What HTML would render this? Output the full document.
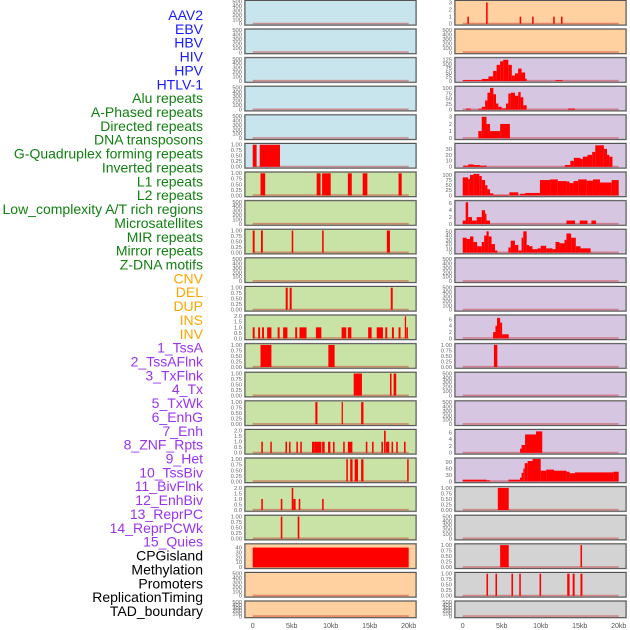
<!DOCTYPE html>
<html><head><meta charset="utf-8">
<style>
html,body{margin:0;padding:0;background:#fff;}
svg{display:block;font-family:"Liberation Sans",sans-serif;}
</style></head>
<body>
<svg id="chart" width="630" height="630" viewBox="0 0 630 630" xmlns="http://www.w3.org/2000/svg">
<g id="labels"></g>
<g id="panels"></g>
<g id="xaxes"></g>
</svg>
<script>
const trackLabels = ["AAV2","EBV","HBV","HIV","HPV","HTLV-1","Alu repeats","A-Phased repeats","Directed repeats","DNA transposons","G-Quadruplex forming repeats","Inverted repeats","L1 repeats","L2 repeats","Low_complexity A/T rich regions","Microsatellites","MIR repeats","Mirror repeats","Z-DNA motifs","CNV","DEL","DUP","INS","INV","1_TssA","2_TssAFlnk","3_TxFlnk","4_Tx","5_TxWk","6_EnhG","7_Enh","8_ZNF_Rpts","9_Het","10_TssBiv","11_BivFlnk","12_EnhBiv","13_ReprPC","14_ReprPCWk","15_Quies","CPGisland","Methylation","Promoters","ReplicationTiming","TAD_boundary"];
const labelGroups = [6,13,5,15,5];
const groupColors = ["#1a1aff","#118011","#ffa500","#9a33f0","#000000"];
const leftBg = ["#c8e4ec","#c8e4ec","#c8e4ec","#c8e4ec","#c8e4ec","#c8e4ec","#c9e2a5","#c9e2a5","#c9e2a5","#c9e2a5","#c9e2a5","#c9e2a5","#c9e2a5","#c9e2a5","#c9e2a5","#c9e2a5","#c9e2a5","#c9e2a5","#c9e2a5","#ffd0a0","#ffd0a0","#ffd0a0"];
const rightBg = ["#ffd0a0","#ffd0a0","#d6c6e2","#d6c6e2","#d6c6e2","#d6c6e2","#d6c6e2","#d6c6e2","#d6c6e2","#d6c6e2","#d6c6e2","#d6c6e2","#d6c6e2","#d6c6e2","#d6c6e2","#d6c6e2","#d6c6e2","#d3d3d3","#d3d3d3","#d3d3d3","#d3d3d3","#d3d3d3"];
const E = [];
const T500 = ["0","100","200","300","400","500"];
const T1 = ["0.00","0.25","0.50","0.75","1.00"];
const T2 = ["0.0","0.5","1.0","1.5","2.0"];
// left column: [segments [kbStart,kbEnd,value]], ticks, domain max
const leftData = [
 E,E,E,E,E,
 [[0,0.5,1],[0.9,3.5,1]],
 [[1.0,1.6,1],[8.2,8.7,1],[8.9,10.0,1],[12.2,12.7,1],[14.1,14.7,1],[18.7,19.1,1]],
 E,
 [[0,0.25,1],[1.06,1.3,1],[5.0,5.2,1],[8.9,9.1,1],[17.2,17.6,1]],
 E,
 [[4.23,4.49,1],[4.74,5.0,1],[17.7,17.95,1]],
 [[0,0.25,1],[0.7,0.95,1],[1.2,1.45,1],[1.85,2.4,1],[3.2,3.45,1],[3.9,4.45,1],[5.45,5.7,1],[6.0,6.9,1],[8.1,8.8,1],[11.4,12.0,1],[12.2,12.65,1],[14.8,15.25,1],[15.9,16.7,1],[17.0,17.25,1],[17.85,18.1,1],[18.7,18.95,1],[19.5,19.65,2],[19.7,19.9,1]],
 [[1.0,2.4,1],[9.7,10.5,1]],
 [[12.95,14.0,1],[17.6,17.8,1],[18.07,18.4,1]],
 [[8.03,8.3,1],[11.4,11.55,1],[13.9,14.2,1]],
 [[1.1,1.3,1],[2.26,2.45,1],[4.2,4.4,1],[4.66,4.85,1],[5.6,5.8,1],[6.1,6.3,1],[7.6,7.95,1],[7.95,8.8,1],[8.9,9.23,1],[9.66,9.96,1],[10.3,10.5,1],[11.6,11.8,1],[12.2,12.78,1],[14.5,14.7,1],[15.3,15.5,1],[16.5,16.7,1],[16.84,17.05,2],[17.1,17.5,1],[17.8,18.0,1],[18.4,18.6,1],[19.4,19.6,1]],
 [[12.0,12.2,1],[12.5,12.8,1],[13.07,13.5,1],[13.9,14.2,1],[19.8,20.0,1]],
 [[1.1,1.3,1],[3.6,3.8,1],[5.0,5.2,2],[5.2,5.5,1],[5.9,6.1,1],[8.9,9.1,1]],
 [[3.6,3.8,1],[5.77,5.98,1]],
 [[0,20,40]],
 E,E
];
const leftTicks = [T500,T500,T500,T500,T500,T1,T1,T500,T1,T500,T1,T2,T1,T1,T1,T2,T1,T2,T1,["0","10","20","30","40"],T500,T500];
const leftMax = [500,500,500,500,500,1,1,500,1,500,1,2,1,1,1,2,1,2,1,45,500,500];
const rightData = [
 [[0.6,0.8,1],[3.0,3.2,3],[7.3,7.5,1],[8.9,9.1,1],[11.6,11.8,1],[12.6,12.8,1]],
 E,
 [[0,2.44,5],[2.44,3.3,12],[3.3,3.9,27],[3.9,4.35,59],[4.35,4.8,95],[4.8,5.2,116],[5.2,5.85,125],[5.85,6.3,95],[6.3,6.7,32],[6.7,7.1,45],[7.1,7.55,73],[7.55,8.0,50],[8.0,8.2,14],[11.9,12.8,5]],
 [[0.43,1.03,5],[2.0,2.44,4],[2.44,2.87,13],[2.87,3.17,42],[3.17,3.5,78],[3.5,3.93,100],[3.93,4.27,71],[4.27,4.57,28],[4.57,5.0,13],[5.0,5.55,6],[5.55,5.85,28],[5.85,6.15,74],[6.15,6.7,78],[6.7,7.13,64],[7.13,7.43,81],[7.43,7.77,57],[7.77,8.2,20],[13.5,14.4,5]],
 [[2.0,2.44,1],[2.44,3.05,3],[3.05,3.5,2],[3.5,4.8,1],[4.8,6.05,2]],
 [[0.08,0.7,2],[0.7,1.37,4],[1.37,2.2,3],[2.2,3.05,2],[13.1,13.8,3],[13.8,14.25,10],[14.25,15.1,15],[15.1,15.4,13],[15.4,16.0,17],[16.0,16.6,20],[16.6,17.0,25],[17.0,18.1,36],[18.1,18.5,30],[18.5,18.8,20],[18.8,19.2,17]],
 [[0,0.7,88],[0.7,0.93,80],[0.93,1.37,100],[1.37,2.13,105],[2.13,2.44,95],[2.44,2.87,75],[2.87,3.17,50],[3.17,3.5,30],[3.5,3.93,10],[3.93,5.85,2],[5.98,7.13,15],[7.35,8.0,8],[8.0,9.9,12],[9.9,11.2,75],[11.2,12.2,78],[12.2,13.3,70],[13.3,13.7,68],[13.7,14.2,60],[14.2,14.8,70],[14.8,15.9,78],[15.9,16.7,72],[16.7,17.6,78],[17.6,19.1,63],[19.1,20.0,75]],
 [[0,0.38,1],[0.38,0.7,6.3],[0.7,1.2,2],[1.2,1.8,1],[1.8,2.44,2],[2.44,2.87,4],[2.87,3.05,3],[3.05,3.5,1],[13.3,14.4,1],[15.0,16.0,1],[16.5,17.1,1]],
 [[0,0.5,35],[0.5,0.93,32],[0.93,1.37,38],[1.37,1.85,25],[1.85,2.44,15],[2.44,2.75,25],[2.75,3.05,40],[3.05,3.33,50],[3.33,3.7,38],[3.7,4.14,20],[4.14,4.44,5],[5.85,6.15,12],[6.15,6.7,28],[6.7,7.13,18],[7.13,7.55,5],[7.55,7.77,35],[7.77,8.2,50],[8.2,8.5,18],[8.5,8.95,15],[8.95,9.6,8],[9.6,10.0,10],[10.0,10.7,16],[10.7,11.5,10],[11.5,11.9,8],[11.9,12.4,25],[12.4,13.05,22],[13.05,13.3,30],[13.3,13.9,45],[13.9,14.5,35],[14.5,15.1,15],[15.1,16.4,10]],
 E,E,
 [[3.9,4.2,2],[4.2,4.4,4],[4.4,4.8,6.5],[4.8,5.05,5],[5.05,5.9,1.3]],
 [[4.0,4.44,1]],
 E,E,
 [[7.35,7.55,1.2],[7.55,8.0,2.3],[8.0,9.4,5.4],[9.4,10.2,6.3]],
 [[0,3.05,8],[3.05,3.5,5],[5.85,7.35,8],[7.35,7.55,18],[7.55,7.77,40],[7.77,7.95,60],[7.95,8.33,85],[8.33,8.95,95],[8.95,10.0,105],[10.0,10.7,50],[10.7,11.7,55],[11.7,13.3,50],[13.3,13.7,45],[13.7,14.4,38],[14.4,19.3,42],[19.3,20.0,45]],
 [[4.5,5.9,1]],
 E,
 [[4.8,5.9,1],[15.1,15.3,1]],
 [[3.05,3.25,1],[4.2,4.4,1],[6.25,6.45,1],[7.25,7.45,1],[9.85,10.05,1],[13.4,13.7,1],[14.1,14.35,1],[15.1,15.35,1]],
 E
];
const rightTicks = [["0","1","2","3"],T500,["0","25","50","75","100","125"],["0","25","50","75","100"],["0","1","2","3"],["0","10","20","30"],["0","25","50","75","100"],["0","2","4","6"],["0","10","20","30","40","50"],T500,T500,["0","2","4","6"],T1,T500,T500,["0","2","4","6"],["0","30","60","90"],T1,T500,T1,T1,T500];
const rightMax = [3.1,500,130,102,3.1,37,108,6.4,52,500,500,7,1,500,500,6.5,103,1,500,1,1,500];
const xTickValues = [0,5,10,15,20];
const xTickLabels = ["0","5kb","10kb","15kb","20kb"];

const NS = "http://www.w3.org/2000/svg";
function mk(tag, attrs, parent){const e=document.createElementNS(NS,tag);for(const k in attrs)e.setAttribute(k,attrs[k]);parent.appendChild(e);return e;}
const rowStep = 28.6;
function rowTop(r){return r*rowStep+0.5;}
function rowH(r){return r===21?16.5:24.5;}
const colLeft=[245,455];
const panelW=171;
function xScale(col,kb){return colLeft[col]+7.7+kb*7.8;}
function yScale(r,v,max){const b=rowTop(r)+rowH(r)-1.2;const t=rowTop(r)+1.2;return b-(v/max)*(b-t);}

// labels
const lg=document.getElementById('labels');
let gi=0,cnt=0;
trackLabels.forEach((name,i)=>{
  while(cnt>=labelGroups[gi]){cnt-=labelGroups[gi];gi++;}
  const t=mk('text',{x:203,y:15+i*13.86+5,'text-anchor':'end','font-size':'14',fill:groupColors[gi]},lg);
  
  
  t.textContent=name;
  cnt++;
});

const pg=document.getElementById('panels');
function drawPanel(col,r,segs,ticks,max,bg){
  const g=mk('g',{},pg);
  
  
  const x0=colLeft[col],y0=rowTop(r),h=rowH(r);
  mk('rect',{x:x0-0.5,y:y0-0.5,width:panelW+1,height:h+1,fill:'none',stroke:'#bbbbbb','stroke-width':1},g);
  const bgR=mk('rect',{x:x0,y:y0,width:panelW,height:h,fill:bg,stroke:'#555','stroke-width':1},g);
  
  
  // baseline
  const bl=mk('line',{x1:xScale(col,0),x2:xScale(col,20),y1:yScale(r,0,max)-0.3,y2:yScale(r,0,max)-0.3,stroke:'rgba(200,40,40,0.45)','stroke-width':1.6},g);
  
  
  segs.forEach(s=>{
    const xa=xScale(col,s[0]),xb=xScale(col,s[1]);
    const yt=yScale(r,Math.min(s[2],max*1.02),max),yb=yScale(r,0,max);
    const b=mk('rect',{x:xa,y:yt,width:Math.max(xb-xa,1.3),height:Math.max(yb-yt,0.5),fill:'#ff0000'},g);
    
    
  });
  const tmax=parseFloat(ticks[ticks.length-1]);
  const dmax = max;
  ticks.forEach(tk=>{
    const v=parseFloat(tk);
    const t=mk('text',{x:x0-3,y:yScale(r,v,dmax)+1.9,'text-anchor':'end','font-size':'5.8',fill:'#666'},g);
    
    
    t.textContent=tk;
  });
}
for(let r=0;r<22;r++){
  drawPanel(0,r,leftData[r],leftTicks[r],leftMax[r],leftBg[r]);
  drawPanel(1,r,rightData[r],rightTicks[r],rightMax[r],rightBg[r]);
}
const xg=document.getElementById('xaxes');
[0,1].forEach(col=>{
  xTickValues.forEach((v,i)=>{
    const t=mk('text',{x:xScale(col,v),y:628,'text-anchor':'middle','font-size':'7',fill:'#555'},xg);
    
    
    t.textContent=xTickLabels[i];
  });
});
</script>
</body></html>
